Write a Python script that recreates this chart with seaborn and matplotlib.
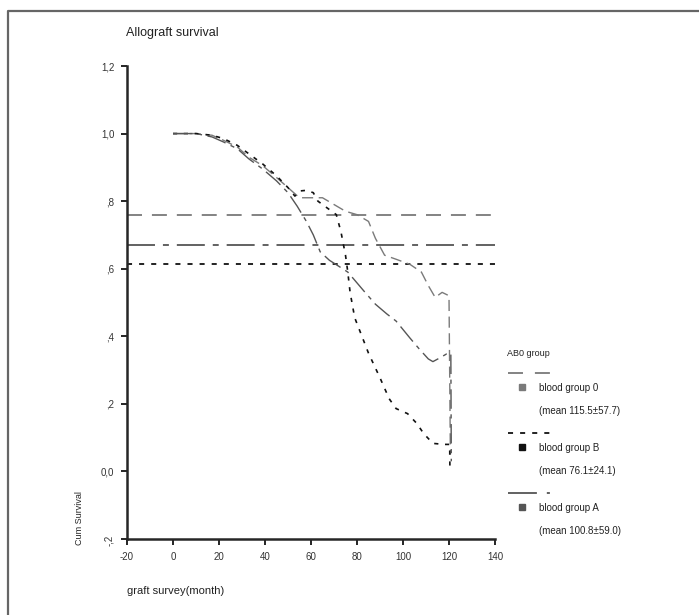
import seaborn as sns
import matplotlib.pyplot as plt
import matplotlib.lines as mlines
import numpy as np
import pandas as pd

# Kaplan-Meier style curves
months_0 = [0, 10, 17, 22, 28, 33, 39, 45, 50, 55, 60, 65, 70, 75, 80, 85, 88, 92, 97, 103, 108, 111, 114, 117, 120, 120.6]
surv_0 = [1.0, 1.0, 0.995, 0.98, 0.96, 0.93, 0.905, 0.87, 0.84, 0.81, 0.81, 0.81, 0.79, 0.77, 0.76, 0.74, 0.69,
          0.64, 0.628, 0.613, 0.59, 0.55, 0.515, 0.53, 0.52, 0.05]

months_B = [0, 10, 17, 22, 28, 33, 39, 45, 50, 53, 55, 58, 61, 63, 67, 71, 73, 75, 76, 77, 79, 81, 85, 90, 94, 97,
            102, 106, 109, 113, 118, 120.3, 120.4]
surv_B = [1.0, 1.0, 0.995, 0.985, 0.965, 0.94, 0.91, 0.875, 0.84, 0.815, 0.83, 0.832, 0.825, 0.80, 0.78, 0.76, 0.71,
          0.64, 0.59, 0.53, 0.455, 0.42, 0.35, 0.277, 0.215, 0.186, 0.171, 0.142, 0.112, 0.083, 0.08, 0.08, 0.005]

months_A = [0, 10, 17, 22, 28, 33, 39, 45, 50, 54, 58, 61, 64, 68, 71, 76, 83, 88, 93, 97, 103, 107, 111, 113, 116,
            119, 120.8, 121]
surv_A = [1.0, 1.0, 0.99, 0.975, 0.955, 0.925, 0.895, 0.86, 0.825, 0.785, 0.74, 0.70, 0.65, 0.625, 0.612, 0.59,
          0.534, 0.495, 0.466, 0.445, 0.395, 0.363, 0.333, 0.325, 0.336, 0.348, 0.35, 0.03]

# horizontal reference levels per group
ref_0 = 0.758
ref_A = 0.67
ref_B = 0.614

groups = ["blood group 0", "blood group B", "blood group A"]
mean_labels = ["(mean 115.5\u00b157.7)", "(mean 76.1\u00b124.1)", "(mean 100.8\u00b159.0)"]
yticks = [-0.2, 0.0, 0.2, 0.4, 0.6, 0.8, 1.0, 1.2]
ytick_labels = ["-,2", "0,0", ",2", ",4", ",6", ",8", "1,0", "1,2"]
xticks = [-20, 0, 20, 40, 60, 80, 100, 120, 140]

sns.set_style("ticks")
plt.rcParams['font.family'] = ['Liberation Sans', 'DejaVu Sans']

W, H = 699, 615
fig = plt.figure(figsize=(W / 100, H / 100), dpi=100)
ax = fig.add_axes([127 / W, 1 - 539 / H, (495 - 127) / W, (539 - 66) / H])

colors = {"0": "#7a7a7a", "B": "#111111", "A": "#555555"}
# dash patterns are in units of linewidth
dash_0 = (0, (8.3, 5.5))
dash_B = (0, (2.8, 3.9))
dash_A = (0, (15.5, 4.4, 3.3, 4.4))

# reference lines
ax.axhline(ref_0, color=colors["0"], lw=1.3, ls=dash_0)
ax.axhline(ref_A, color=colors["A"], lw=1.3, ls=dash_A)
ax.axhline(ref_B, color=colors["B"], lw=1.3, ls=dash_B)

df0 = pd.DataFrame({"month": months_0, "surv": surv_0})
dfB = pd.DataFrame({"month": months_B, "surv": surv_B})
dfA = pd.DataFrame({"month": months_A, "surv": surv_A})

sns.lineplot(data=df0, x="month", y="surv", ax=ax, color=colors["0"], lw=1.0, estimator=None, sort=False,
             linestyle=(0, (8, 4)))
sns.lineplot(data=dfB, x="month", y="surv", ax=ax, color=colors["B"], lw=1.2, estimator=None, sort=False,
             linestyle=(0, (2.5, 4)))
sns.lineplot(data=dfA, x="month", y="surv", ax=ax, color=colors["A"], lw=1.0, estimator=None, sort=False,
             linestyle=(0, (14, 4, 3, 4)))

ax.set_xlim(-20, 140)
ax.set_ylim(-0.2, 1.2)
ax.set_xticks(xticks)
ax.set_xticklabels([str(t) for t in xticks], fontsize=7, color="#333333")
ax.set_yticks(yticks)
ax.set_yticklabels(ytick_labels, fontsize=7, color="#333333")
ax.get_yticklabels()[0].set_rotation(90)
ax.tick_params(direction="out", length=4, width=1.2, color="black", pad=5)
ax.set_xlabel("")
ax.set_ylabel("")
sns.despine(ax=ax)
ax.spines["left"].set_linewidth(1.8)
ax.spines["bottom"].set_linewidth(1.8)


def fx(x):
    return x / W


def fy(y):
    return 1 - y / H


fig.text(fx(126), fy(33), "Allograft survival", fontsize=9, color="#222222", va="center", ha="left")
fig.text(fx(80), fy(545), "Cum Survival", fontsize=6.5, rotation=90, va="bottom", ha="center",
         color="#222222")
fig.text(fx(127), fy(591), "graft survey(month)", fontsize=8, va="center", ha="left", color="#222222")

# legend drawn by hand to follow the original layout
fig.text(fx(507), fy(353), "AB0 group", fontsize=6.5, va="center", ha="left", color="#222222")
leg_y = [373, 433, 493]
leg_styles = [((0, (8.3, 6.6)), colors["0"], 1.3), (dash_B, colors["B"], 1.3),
              ((0, (16, 5.5, 1.7, 20)), colors["A"], 1.3)]
marker_y = [387, 447, 507]
for i, g in enumerate(groups):
    ls, c, lw = leg_styles[i]
    fig.add_artist(mlines.Line2D([fx(508), fx(551)], [fy(leg_y[i]), fy(leg_y[i])], color=c, lw=lw, ls=ls,
                                 transform=fig.transFigure))
    fig.add_artist(mlines.Line2D([fx(522)], [fy(marker_y[i])], marker="s", markersize=5, color=c,
                                 transform=fig.transFigure))
    fig.text(fx(539), fy(marker_y[i] + 1), g, fontsize=7, va="center", ha="left", color="#222222")
    fig.text(fx(539), fy(marker_y[i] + 24), mean_labels[i], fontsize=7, va="center", ha="left",
             color="#222222")

# outer frame (top and left edges visible)
fig.add_artist(mlines.Line2D([fx(8), fx(8), fx(699)], [fy(615), fy(11), fy(11)], color="#666666", lw=1.6,
                             transform=fig.transFigure))

fig.savefig("out.png", dpi=100)
